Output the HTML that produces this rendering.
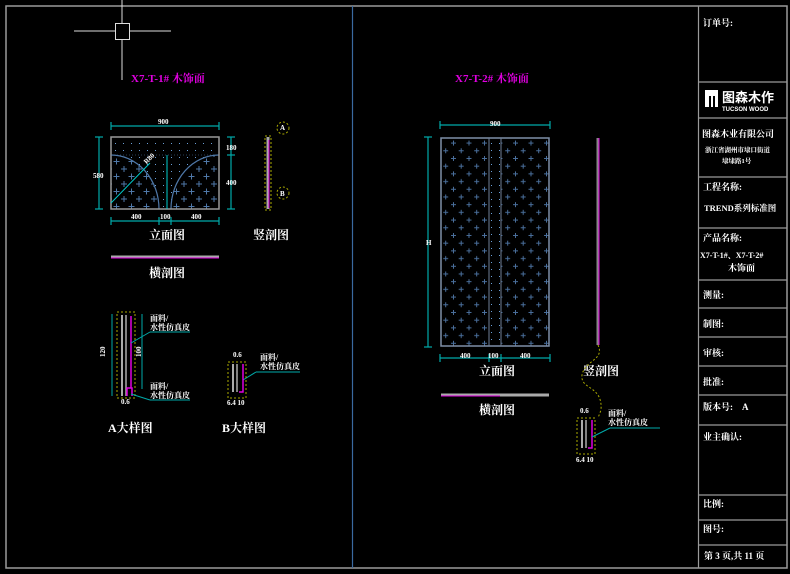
<!DOCTYPE html>
<html><head><meta charset="utf-8"><style>
html,body{margin:0;padding:0;background:#000;}
svg{display:block}
text{font-family:"Liberation Serif","Noto Serif CJK SC","Noto Sans CJK SC",serif;fill:#fff;font-weight:bold}
</style></head><body>
<svg width="790" height="574" viewBox="0 0 790 574" xmlns="http://www.w3.org/2000/svg">
<defs>
<pattern id="dots" width="8" height="7" patternUnits="userSpaceOnUse"><rect x="3" y="3" width="1" height="1" fill="#6a9fd8"/></pattern>
<pattern id="cross" width="15" height="15" patternUnits="userSpaceOnUse"><path d="M4 1v6M1 4h6M11.5 8.5v6M8.5 11.5h6" stroke="#4f78a8" stroke-width="1"/></pattern>
<pattern id="cross2" width="15.5" height="15.4" patternUnits="userSpaceOnUse"><path d="M4 2v5M1.5 4.5h5M11.7 9.7v5M9.2 12.2h5" stroke="#4a6f9c" stroke-width="1"/></pattern>
</defs>
<rect x="6" y="6" width="781" height="562" fill="none" stroke="#9a9a9a" stroke-width="1.5"/>
<line x1="352.5" y1="6" x2="352.5" y2="568" stroke="#3a6aa0" stroke-width="1.2"/>
<line x1="698.5" y1="6" x2="698.5" y2="568" stroke="#9a9a9a" stroke-width="1.2"/>
<line x1="74" y1="31" x2="171" y2="31" stroke="#ddd"/>
<line x1="122" y1="0" x2="122" y2="80" stroke="#ddd"/>
<rect x="115.5" y="23.5" width="14" height="16" fill="#000" stroke="#ddd"/>
<text x="131" y="82" font-size="11" style="fill:#e000e0">X7-T-1# 木饰面</text>
<text x="455" y="82" font-size="11" style="fill:#e000e0">X7-T-2# 木饰面</text>

<rect x="111" y="137" width="108" height="72" fill="url(#dots)"/>
<path d="M111 155 A48 54 0 0 1 159 209 L111 209Z" fill="#000"/>
<path d="M219 155 A48 54 0 0 0 171 209 L219 209Z" fill="#000"/>
<path d="M111 155 A48 54 0 0 1 159 209 L111 209Z" fill="url(#cross)"/>
<path d="M219 155 A48 54 0 0 0 171 209 L219 209Z" fill="url(#cross)"/>
<path d="M111 155 A48 54 0 0 1 159 209 M219 155 A48 54 0 0 0 171 209" fill="none" stroke="#4f78a8" stroke-width="1.2"/>
<rect x="111" y="137" width="108" height="72" fill="none" stroke="#999" stroke-width="1.5"/>
<line x1="111" y1="155" x2="219" y2="155" stroke="#4f78a8" stroke-width="0.6" stroke-dasharray="1 2"/>
<line x1="167" y1="155" x2="167" y2="209" stroke="#0cc"/>
<line x1="111" y1="203" x2="150" y2="163" stroke="#0cc"/>
<text x="143" y="160" font-size="7" transform="rotate(-45 150 158)">R80</text>
<g stroke="#0aa" stroke-width="1.2" fill="none">
<line x1="111" y1="126" x2="219" y2="126"/><line x1="111" y1="122" x2="111" y2="130"/><line x1="219" y1="122" x2="219" y2="130"/>
<line x1="99" y1="137" x2="99" y2="209"/><line x1="95" y1="137" x2="103" y2="137"/><line x1="95" y1="209" x2="103" y2="209"/>
<line x1="231" y1="137" x2="231" y2="209"/><line x1="227" y1="137" x2="235" y2="137"/><line x1="227" y1="155" x2="235" y2="155"/><line x1="227" y1="209" x2="235" y2="209"/>
<line x1="111" y1="221" x2="219" y2="221"/><line x1="111" y1="217" x2="111" y2="225"/><line x1="159" y1="217" x2="159" y2="225"/><line x1="171" y1="217" x2="171" y2="225"/><line x1="219" y1="217" x2="219" y2="225"/>
</g>
<text x="158" y="124" font-size="7">900</text>
<text x="93" y="178" font-size="7">580</text>
<text x="226" y="150" font-size="7">180</text>
<text x="226" y="185" font-size="7">400</text>
<text x="131" y="219" font-size="7">400</text>
<text x="160" y="219" font-size="7">100</text>
<text x="191" y="219" font-size="7">400</text>
<text x="149" y="239" font-size="12">立面图</text>
<text x="253" y="239" font-size="12">竖剖图</text>
<line x1="111" y1="257" x2="219" y2="257" stroke="#aaa" stroke-width="3"/>
<line x1="111" y1="258" x2="219" y2="258" stroke="#e000e0" stroke-width="1"/>
<text x="149" y="277" font-size="12">横剖图</text>
<line x1="268" y1="137" x2="268" y2="209" stroke="#aaa" stroke-width="3"/>
<line x1="269" y1="140" x2="269" y2="208" stroke="#e000e0"/>
<rect x="265" y="136" width="6" height="74" fill="none" stroke="#aa0" stroke-dasharray="2 2"/>
<circle cx="283" cy="128" r="6" fill="none" stroke="#aa0" stroke-dasharray="2 2"/>
<circle cx="283" cy="193" r="6" fill="none" stroke="#aa0" stroke-dasharray="2 2"/>
<text x="280" y="130" font-size="7">A</text><text x="280" y="196" font-size="7">B</text>

<rect x="117" y="312" width="18" height="86" fill="none" stroke="#aa0" stroke-dasharray="2 2"/>
<line x1="122" y1="315" x2="122" y2="396" stroke="#aaa" stroke-width="2"/>
<line x1="126" y1="315" x2="126" y2="396" stroke="#aaa" stroke-width="1.5"/>
<line x1="131" y1="316" x2="131" y2="388" stroke="#e000e0" stroke-width="1.5"/>
<path d="M127 396v-8h5v8" fill="none" stroke="#e000e0" stroke-width="1.5"/>
<g stroke="#0aa" fill="none">
<line x1="112" y1="314" x2="112" y2="396"/><line x1="142" y1="314" x2="142" y2="389"/>
<line x1="131" y1="343" x2="150" y2="332"/><line x1="150" y1="332" x2="190" y2="332"/>
<line x1="131" y1="394" x2="150" y2="400"/><line x1="150" y1="400" x2="190" y2="400"/>
<line x1="243" y1="380" x2="256" y2="372"/><line x1="256" y1="372" x2="300" y2="372"/>
</g>
<text x="150" y="321" font-size="8">面料/</text><text x="150" y="330" font-size="8">水性仿真皮</text>
<text x="150" y="389" font-size="8">面料/</text><text x="150" y="398" font-size="8">水性仿真皮</text>
<text x="105" y="357" font-size="7" transform="rotate(-90 105 357)">120</text>
<text x="141" y="357" font-size="7" transform="rotate(-90 141 357)">100</text>
<text x="121" y="404" font-size="7">0.6</text>
<text x="108" y="432" font-size="12">A大样图</text>
<rect x="228" y="362" width="18" height="36" fill="none" stroke="#aa0" stroke-dasharray="2 2"/>
<line x1="233" y1="364" x2="233" y2="392" stroke="#aaa" stroke-width="2"/>
<line x1="237" y1="364" x2="237" y2="392" stroke="#aaa" stroke-width="1.5"/>
<path d="M243 364v28h-4" fill="none" stroke="#e000e0" stroke-width="1.5"/>
<text x="233" y="357" font-size="7">0.6</text>
<text x="260" y="360" font-size="8">面料/</text><text x="260" y="369" font-size="8">水性仿真皮</text>
<text x="227" y="405" font-size="7">6.4 10</text>
<text x="222" y="432" font-size="12">B大样图</text>

<rect x="441" y="138" width="108" height="208" fill="url(#cross2)"/>
<rect x="489" y="138" width="12" height="208" fill="#000"/>
<rect x="489" y="138" width="12" height="208" fill="url(#dots)"/>
<rect x="441" y="138" width="108" height="208" fill="none" stroke="#7f8fa8" stroke-width="1.5"/>
<line x1="489" y1="138" x2="489" y2="346" stroke="#6f7f98"/><line x1="501" y1="138" x2="501" y2="346" stroke="#6f7f98"/>
<g stroke="#0aa" stroke-width="1.2">
<line x1="440" y1="125" x2="550" y2="125"/><line x1="440" y1="121" x2="440" y2="129"/><line x1="550" y1="121" x2="550" y2="129"/>
<line x1="428" y1="137" x2="428" y2="347"/><line x1="424" y1="137" x2="432" y2="137"/><line x1="424" y1="347" x2="432" y2="347"/>
<line x1="440" y1="358" x2="550" y2="358"/><line x1="440" y1="354" x2="440" y2="362"/><line x1="489" y1="354" x2="489" y2="362"/><line x1="501" y1="354" x2="501" y2="362"/><line x1="550" y1="354" x2="550" y2="362"/>
</g>
<text x="490" y="126" font-size="7">900</text>
<text x="426" y="245" font-size="7">H</text>
<text x="460" y="358" font-size="7">400</text><text x="488" y="358" font-size="7">100</text><text x="520" y="358" font-size="7">400</text>
<text x="479" y="375" font-size="12">立面图</text>
<text x="583" y="375" font-size="12">竖剖图</text>
<line x1="441" y1="395" x2="549" y2="395" stroke="#aaa" stroke-width="3"/>
<line x1="441" y1="396" x2="500" y2="396" stroke="#e000e0"/>
<text x="479" y="414" font-size="12">横剖图</text>
<line x1="598" y1="138" x2="598" y2="345" stroke="#888" stroke-width="3"/>
<line x1="599" y1="138" x2="599" y2="345" stroke="#e000e0"/>
<path d="M598 345 C605 360 585 360 582 375 C580 390 603 385 601 410 L598 418" fill="none" stroke="#aa0" stroke-dasharray="2 2"/>
<rect x="577" y="418" width="18" height="36" fill="none" stroke="#aa0" stroke-dasharray="2 2"/>
<line x1="582" y1="420" x2="582" y2="448" stroke="#aaa" stroke-width="2"/>
<line x1="586" y1="420" x2="586" y2="448" stroke="#aaa" stroke-width="1.5"/>
<path d="M592 420v28h-4" fill="none" stroke="#e000e0" stroke-width="1.5"/>
<line x1="592" y1="437" x2="610" y2="428" stroke="#0aa"/><line x1="610" y1="428" x2="660" y2="428" stroke="#0aa"/>
<text x="580" y="413" font-size="7">0.6</text>
<text x="608" y="416" font-size="8">面料/</text><text x="608" y="425" font-size="8">水性仿真皮</text>
<text x="576" y="462" font-size="7">6.4 10</text>

<g stroke="#9a9a9a" stroke-width="1.2">
<line x1="698" y1="82" x2="787" y2="82"/><line x1="698" y1="118" x2="787" y2="118"/><line x1="698" y1="177" x2="787" y2="177"/>
<line x1="698" y1="228" x2="787" y2="228"/><line x1="698" y1="280" x2="787" y2="280"/><line x1="698" y1="308" x2="787" y2="308"/>
<line x1="698" y1="337" x2="787" y2="337"/><line x1="698" y1="366" x2="787" y2="366"/><line x1="698" y1="395" x2="787" y2="395"/>
<line x1="698" y1="425" x2="787" y2="425"/><line x1="698" y1="495" x2="787" y2="495"/><line x1="698" y1="520" x2="787" y2="520"/>
<line x1="698" y1="545" x2="787" y2="545"/>
</g>
<text x="703" y="26" font-size="9">订单号:</text>
<rect x="705" y="90" width="13" height="17" fill="#fff"/><rect x="709" y="96" width="2" height="11" fill="#000"/><rect x="713" y="96" width="2" height="11" fill="#000"/>
<text x="722" y="102" font-size="13" style="font-family:'Noto Sans CJK SC',sans-serif">图森木作</text>
<text x="722" y="111" font-size="6" style="font-family:'Liberation Sans',sans-serif">TUCSON WOOD</text>
<text x="702" y="137" font-size="9">图森木业有限公司</text>
<text x="705" y="152" font-size="6.5">浙江省湖州市埭口街道</text>
<text x="722" y="163" font-size="6.5">埭埭路1号</text>
<text x="703" y="190" font-size="9">工程名称:</text>
<text x="704" y="211" font-size="8.5">TREND系列标准图</text>
<text x="703" y="241" font-size="9">产品名称:</text>
<text x="700" y="258" font-size="8">X7-T-1#、X7-T-2#</text>
<text x="728" y="271" font-size="9">木饰面</text>
<text x="703" y="298" font-size="9">测量:</text>
<text x="703" y="327" font-size="9">制图:</text>
<text x="703" y="356" font-size="9">审核:</text>
<text x="703" y="385" font-size="9">批准:</text>
<text x="703" y="410" font-size="9">版本号:　A</text>
<text x="703" y="440" font-size="9">业主确认:</text>
<text x="703" y="507" font-size="9">比例:</text>
<text x="703" y="532" font-size="9">图号:</text>
<text x="704" y="559" font-size="9">第 3 页,共 11 页</text>
</svg>
</body></html>
